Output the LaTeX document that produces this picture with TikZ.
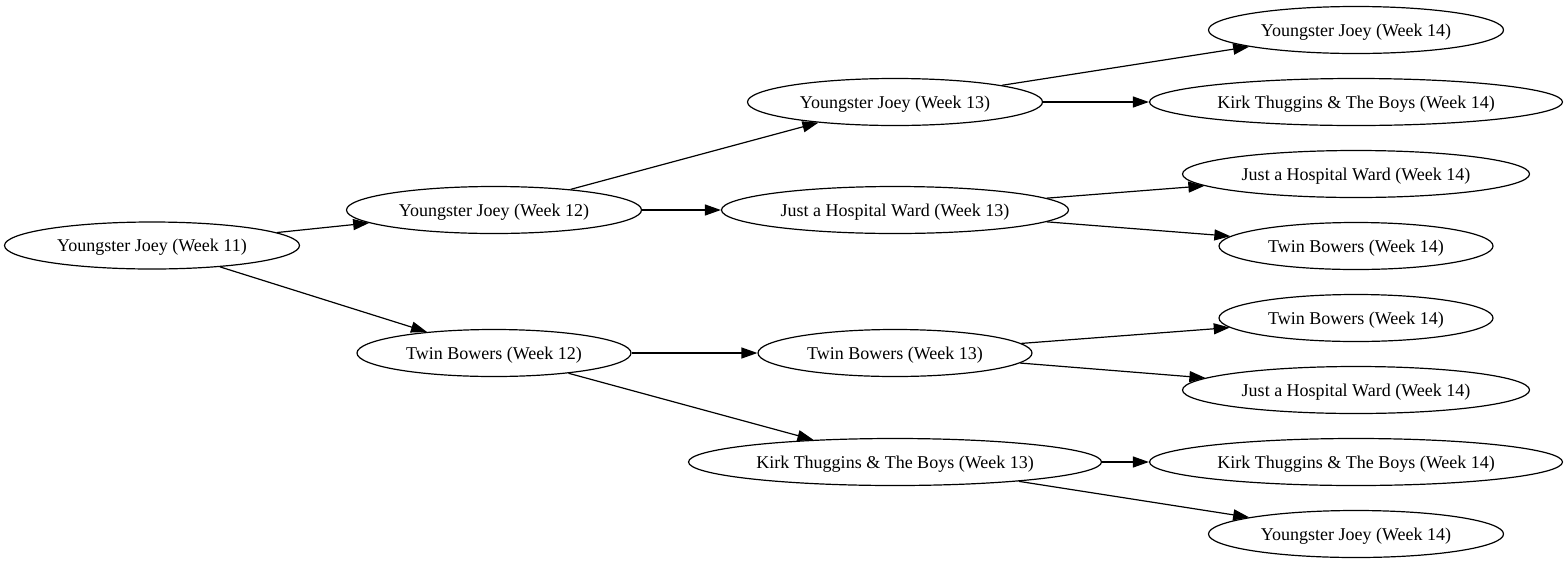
\documentclass[tikz,border=0pt]{standalone}
\usepackage{fontspec}
\setmainfont{Liberation Serif}
\usetikzlibrary{shapes.geometric,arrows.meta}
\begin{document}
\begin{tikzpicture}[x=1pt,y=-1pt,
  gnode/.style={draw,ellipse,inner sep=0pt,minimum height=47pt,line width=1.2pt,text height=16.5pt,text depth=4pt,font=\fontsize{18}{20}\selectfont},
  yj/.style={gnode,minimum width=295pt},
  kt/.style={gnode,minimum width=413pt},
  hw/.style={gnode,minimum width=347pt},
  tb/.style={gnode,minimum width=274pt},
  edge/.style={draw,line width=1.2pt,-{Triangle[length=16pt,width=11pt]}}]
\useasboundingbox (0,0) rectangle (1568,563);
\node[yj] (a) at (152,245.5) {Youngster Joey (Week 11)};
\node[yj] (b1) at (494,210) {Youngster Joey (Week 12)};
\node[tb] (b2) at (494,353) {Twin Bowers (Week 12)};
\node[yj] (c1) at (895,102) {Youngster Joey (Week 13)};
\node[hw] (c2) at (895,210) {Just a Hospital Ward (Week 13)};
\node[tb] (c3) at (895,353) {Twin Bowers (Week 13)};
\node[kt] (c4) at (895,462) {Kirk Thuggins \& The Boys (Week 13)};
\node[yj] (d1) at (1356,30) {Youngster Joey (Week 14)};
\node[kt] (d2) at (1356,102) {Kirk Thuggins \& The Boys (Week 14)};
\node[hw] (d3) at (1356,174) {Just a Hospital Ward (Week 14)};
\node[tb] (d4) at (1356,246) {Twin Bowers (Week 14)};
\node[tb] (d5) at (1356,318) {Twin Bowers (Week 14)};
\node[hw] (d6) at (1356,390) {Just a Hospital Ward (Week 14)};
\node[kt] (d7) at (1356,462) {Kirk Thuggins \& The Boys (Week 14)};
\node[yj] (d8) at (1356,534) {Youngster Joey (Week 14)};
\draw[edge] (a) -- (b1);
\draw[edge] (a) -- (b2);
\draw[edge] (b1) -- (c1);
\draw[edge] (b1) -- (c2);
\draw[edge] (b2) -- (c3);
\draw[edge] (b2) -- (c4);
\draw[edge] (c1) -- (d1);
\draw[edge] (c1) -- (d2);
\draw[edge] (c2) -- (d3);
\draw[edge] (c2) -- (d4);
\draw[edge] (c3) -- (d5);
\draw[edge] (c3) -- (d6);
\draw[edge] (c4) -- (d7);
\draw[edge] (c4) -- (d8);
\end{tikzpicture}
\end{document}
